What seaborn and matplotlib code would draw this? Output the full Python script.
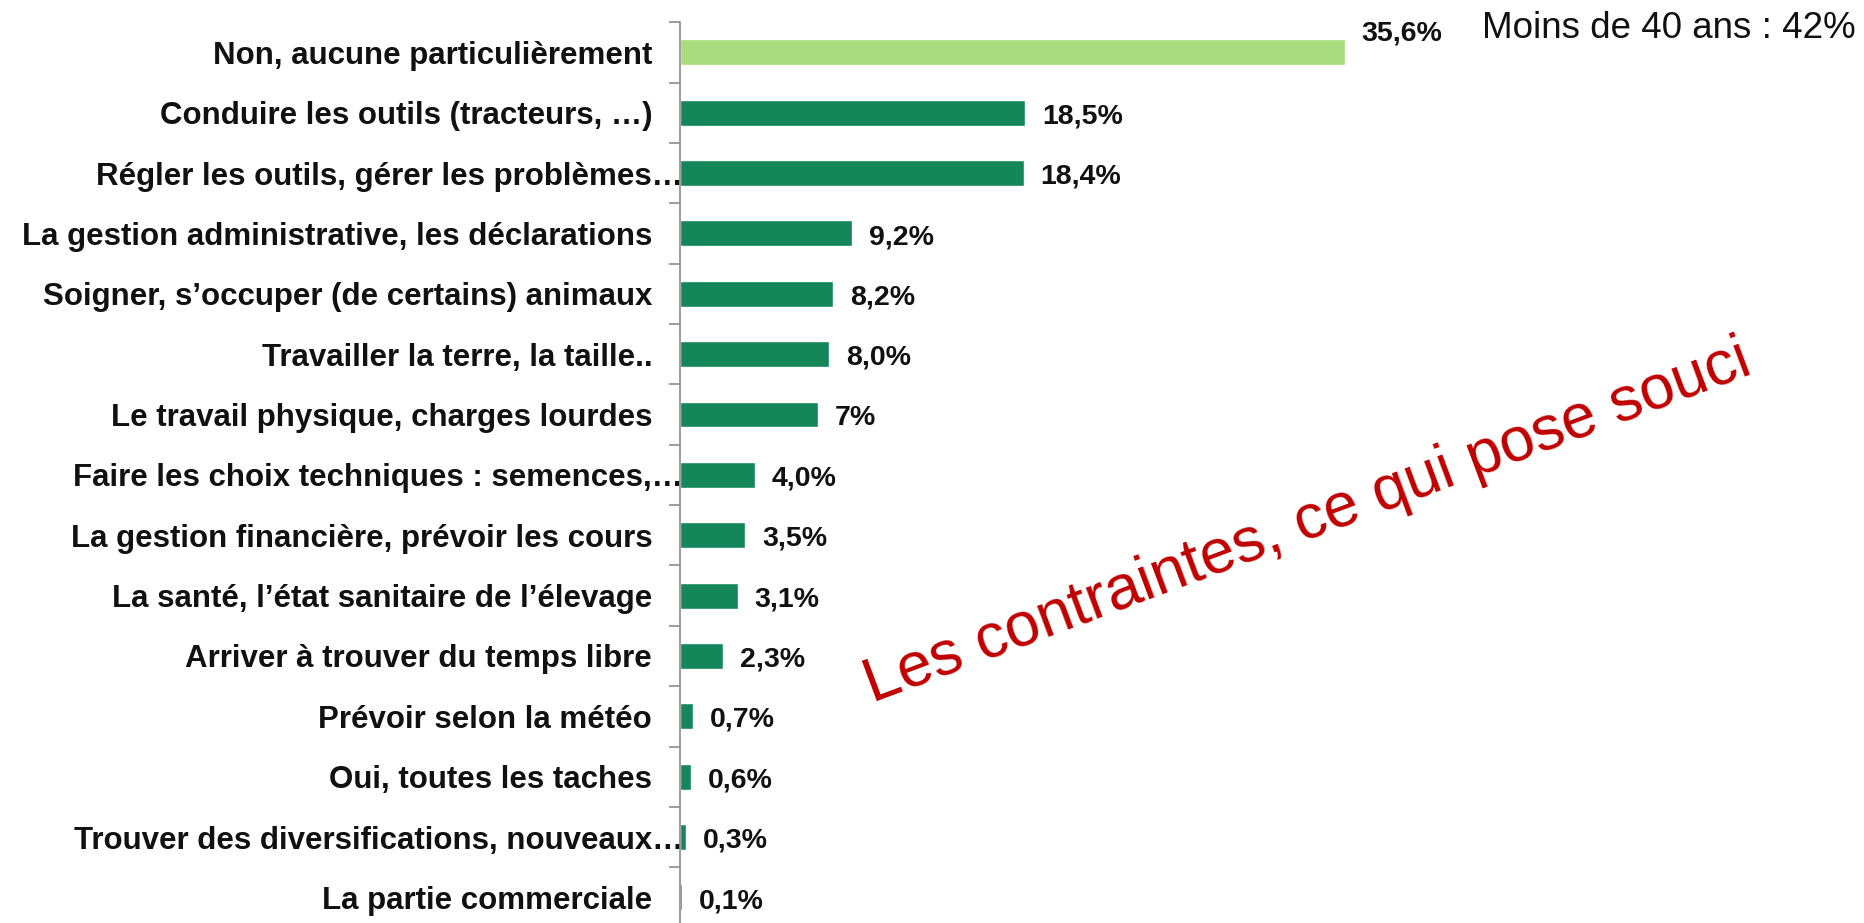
import matplotlib
matplotlib.use("Agg")
import matplotlib.pyplot as plt
import matplotlib.transforms as mtransforms
import seaborn as sns
import pandas as pd

sns.set_style("white")

## --- data
categories = [
    "Non, aucune particulièrement",
    "Conduire les outils (tracteurs, …)",
    "Régler les outils, gérer les problèmes…",
    "La gestion administrative, les déclarations",
    "Soigner, s’occuper (de certains) animaux",
    "Travailler la terre, la taille..",
    "Le travail physique, charges lourdes",
    "Faire les choix techniques : semences,…",
    "La gestion financière, prévoir les cours",
    "La santé, l’état sanitaire de l’élevage",
    "Arriver à trouver du temps libre",
    "Prévoir selon la météo",
    "Oui, toutes les taches",
    "Trouver des diversifications, nouveaux…",
    "La partie commerciale",
]
values = [35.6, 18.5, 18.4, 9.2, 8.2, 8.0, 7.4, 4.0, 3.5, 3.1, 2.3, 0.7, 0.6, 0.3, 0.1]
value_labels = ["35,6%", "18,5%", "18,4%", "9,2%", "8,2%", "8,0%", "7%", "4,0%",
                "3,5%", "3,1%", "2,3%", "0,7%", "0,6%", "0,3%", "0,1%"]
bar_colors = ["#A9DC7E"] + ["#15865A"] * 14
truncated = [2, 7, 13]   # labels cut off by the axis in the original

df = pd.DataFrame({"categorie": categories, "pct": values})

plt.rcParams['font.family'] = ['Liberation Sans', 'DejaVu Sans']

fig = plt.figure(figsize=(18.64, 9.23), dpi=100)
ax = fig.add_axes([0.3648, -0.005, 0.6352, 0.981])

sns.barplot(data=df, y="categorie", x="pct", hue="categorie", palette=bar_colors,
            legend=False, width=0.43, orient="h", ax=ax, saturation=1)

ax.set_xlim(0, 63.4)
ax.set_ylim(14.5, -0.5)
ax.set_xlabel("")
ax.set_ylabel("")
ax.set_xticks([])

for s in ["top", "right", "bottom"]:
    ax.spines[s].set_visible(False)
ax.spines["left"].set_color("#8C8C8C")
ax.spines["left"].set_linewidth(1.2)

## --- tick marks between categories, labels without marks
ax.set_yticks(range(len(categories)))
ax.set_yticklabels(categories, fontsize=22.5, fontweight="bold", color="#111111")
ax.tick_params(axis="y", which="major", left=True, length=0, pad=20)
ax.set_yticks([i - 0.5 for i in range(len(categories) + 1)], minor=True)
ax.tick_params(axis="y", which="minor", left=True, length=8, width=1.2,
               color="#8C8C8C", direction="out")

shift = mtransforms.ScaledTranslation(0.31, 0, fig.dpi_scale_trans)
for i, lab in enumerate(ax.get_yticklabels()):
    if i in truncated:
        lab.set_transform(lab.get_transform() + shift)

## --- value labels
for i, (v, lab) in enumerate(zip(values, value_labels)):
    if i == 0:
        ax.text(v + 0.9, i - 0.32, lab, va="center", ha="left", fontsize=20.5,
                fontweight="bold", color="#111111")
    else:
        ax.text(v + 0.9, i + 0.06, lab, va="center", ha="left", fontsize=20.5,
                fontweight="bold", color="#111111")

fig.text(0.9955, 0.969, "Moins de 40 ans : 42%", ha="right", va="center",
         fontsize=26.5, color="#111111")

fig.text(0.7017, 0.4334, "Les contraintes, ce qui pose souci", ha="center", va="center",
         rotation=20.5, rotation_mode="anchor", fontsize=45, color="#C00000")

fig.savefig("out.png", dpi=100)
